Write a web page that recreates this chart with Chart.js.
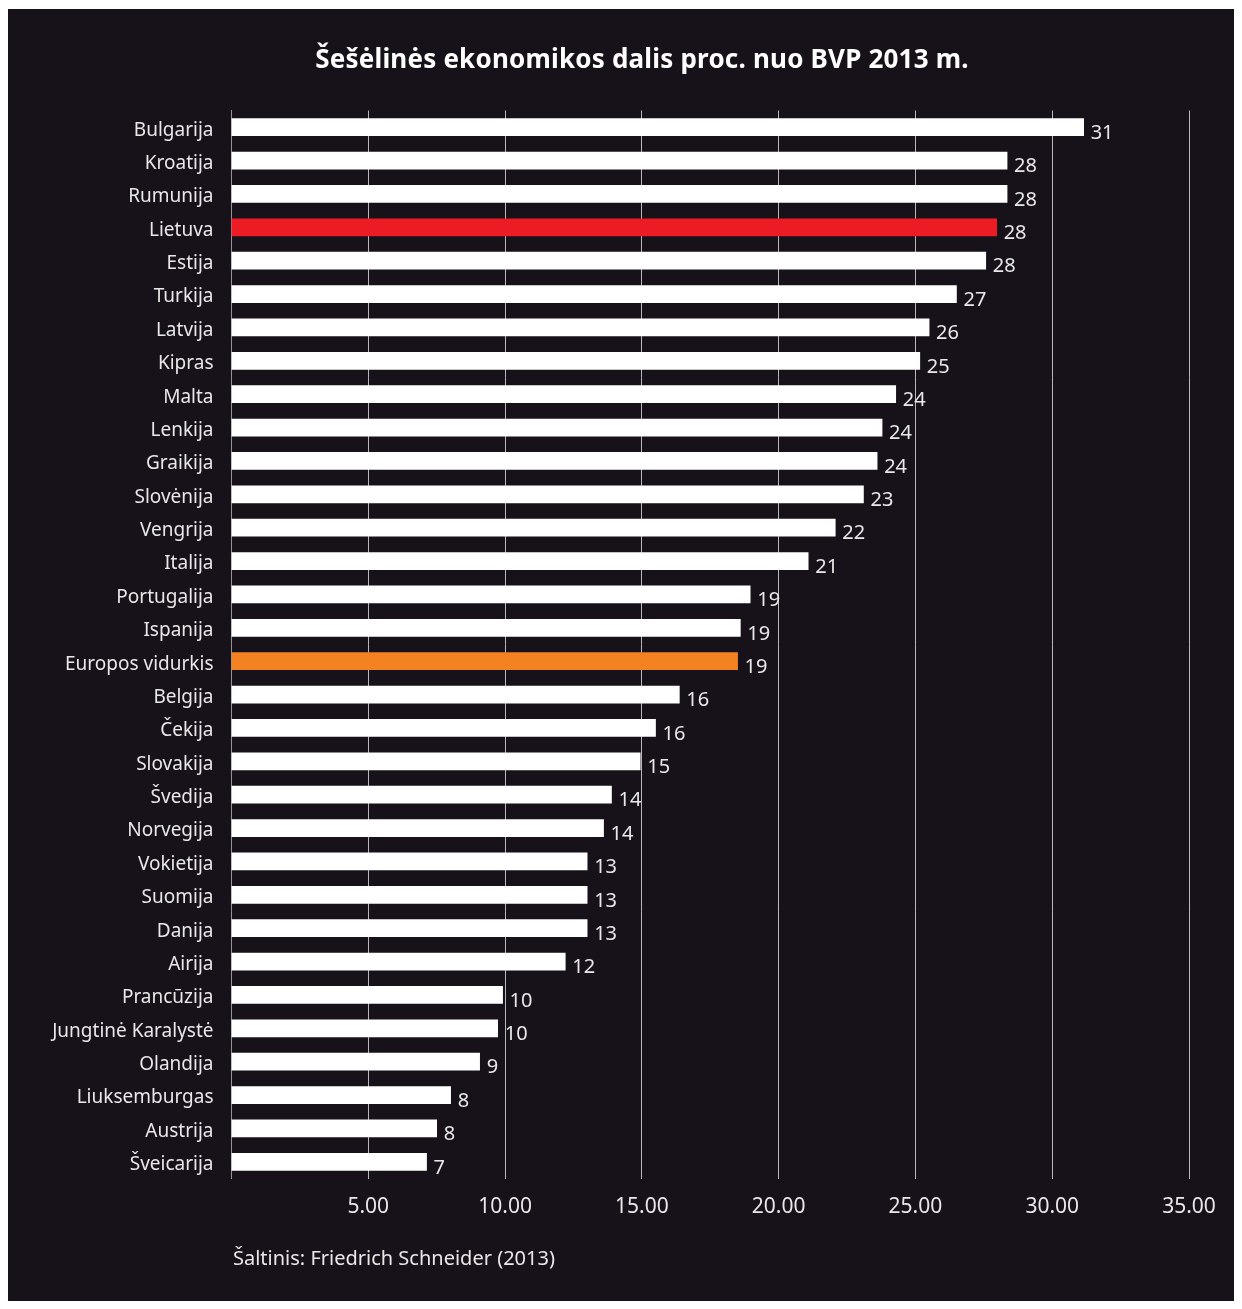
<!DOCTYPE html>
<html>
<head>
<meta charset="utf-8">
<script src="https://cdn.jsdelivr.net/npm/chart.js@4.4.0/dist/chart.umd.min.js"></script>
<style>
  html, body { margin: 0; padding: 0; background: #ffffff; }
  #box { position: absolute; left: 8px; top: 9px; width: 1226px; height: 1292px; background: #17111a; }
  #title { position: absolute; left: 0; top: 36px; width: 1268px; text-align: center; color: #ffffff;
           font-family: "Noto Sans", sans-serif; font-weight: 700; font-size: 26px; line-height: 26px; letter-spacing: 0.2px; }
  #source { position: absolute; left: 225px; top: 1239px; color: #e8e8e8;
            font-family: "Noto Sans", sans-serif; font-size: 20px; line-height: 20px; }
  canvas { position: absolute; left: 0; top: 0; }
</style>
</head>
<body>
<div id="box">
  <canvas id="c" width="1226" height="1292"></canvas>
  <div id="title">Šešėlinės ekonomikos dalis proc. nuo BVP 2013 m.</div>
  <div id="source">Šaltinis: Friedrich Schneider (2013)</div>
</div>
<script>
const categories = ["Bulgarija","Kroatija","Rumunija","Lietuva","Estija","Turkija","Latvija","Kipras","Malta","Lenkija","Graikija","Slovėnija","Vengrija","Italija","Portugalija","Ispanija","Europos vidurkis","Belgija","Čekija","Slovakija","Švedija","Norvegija","Vokietija","Suomija","Danija","Airija","Prancūzija","Jungtinė Karalystė","Olandija","Liuksemburgas","Austrija","Šveicarija"];
const values = [31.15,28.35,28.35,27.97,27.57,26.5,25.5,25.16,24.28,23.78,23.6,23.1,22.07,21.08,18.96,18.6,18.5,16.37,15.5,14.94,13.89,13.6,13.0,13.0,13.0,12.2,9.91,9.73,9.07,8.01,7.5,7.13];
const valueLabels = [31,28,28,28,28,27,26,25,24,24,24,23,22,21,19,19,19,16,16,15,14,14,13,13,13,12,10,10,9,8,8,7];
const xTicks = [5,10,15,20,25,30,35];
const highlight = { "Lietuva": "#ed1c24", "Europos vidurkis": "#f58220" };

const barColors = categories.map(c => highlight[c] || "#ffffff");
const FONT = "Noto Sans";

const valueLabelPlugin = {
  id: "valueLabels",
  afterDatasetsDraw(chart) {
    const ctx = chart.ctx;
    const meta = chart.getDatasetMeta(0);
    ctx.save();
    ctx.font = "20px '" + FONT + "'";
    ctx.fillStyle = "#e8e8e8";
    ctx.textAlign = "left";
    ctx.textBaseline = "middle";
    meta.data.forEach((bar, i) => {
      ctx.fillText(String(valueLabels[i]), bar.x + 7, bar.y + 6);
    });
    ctx.restore();
  }
};

new Chart(document.getElementById("c"), {
  type: "bar",
  data: {
    labels: categories,
    datasets: [{
      data: values,
      backgroundColor: barColors,
      borderWidth: 0,
      barThickness: 17
    }]
  },
  options: {
    indexAxis: "y",
    responsive: false,
    animation: false,
    layout: { padding: { top: 101.5, right: 45, left: 0, bottom: 0 } },
    plugins: { legend: { display: false }, tooltip: { enabled: false }, title: { display: false } },
    scales: {
      x: {
        min: 0, max: 35,
        afterBuildTicks(scale) { scale.ticks = xTicks.map(v => ({ value: v })); },
        afterFit(scale) { scale.height = 122.5; },
        grid: { color: "rgba(255,255,255,0.7)", lineWidth: 1, drawTicks: false },
        border: { display: false },
        ticks: {
          padding: 15.5,
          color: "#e8e8e8",
          font: { family: FONT, size: 21 },
          callback: v => v === 0 ? "" : Number(v).toFixed(2)
        }
      },
      y: {
        afterFit(scale) { scale.width = 223.5; },
        grid: { display: false, drawTicks: false },
        border: { display: true, color: "rgba(255,255,255,0.55)", width: 1 },
        ticks: {
          padding: 18,
          labelOffset: 3,
          color: "#e8e8e8",
          font: { family: FONT, size: 19 },
          autoSkip: false
        }
      }
    }
  },
  plugins: [valueLabelPlugin]
});
</script>
</body>
</html>
